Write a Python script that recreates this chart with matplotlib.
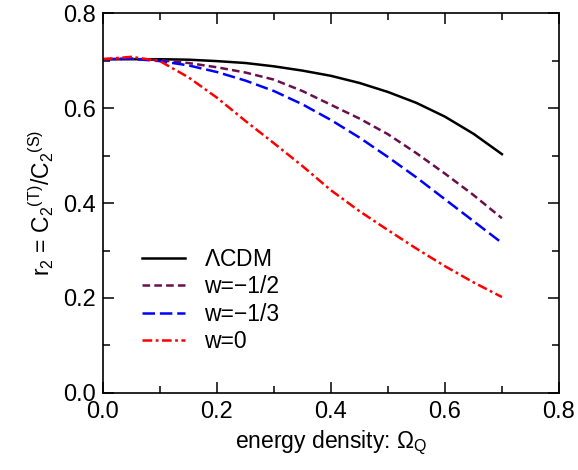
import numpy as np
import matplotlib
matplotlib.use('Agg')
import matplotlib.pyplot as plt
from matplotlib.ticker import MultipleLocator, FormatStrFormatter

plt.rcParams['font.family'] = ['Liberation Sans', 'DejaVu Sans']
plt.rcParams['mathtext.fontset'] = 'custom'
plt.rcParams['mathtext.rm'] = 'Liberation Sans'
plt.rcParams['mathtext.it'] = 'Liberation Sans:italic'
plt.rcParams['lines.scale_dashes'] = False

# energy density values
omega_q = [0.0, 0.05, 0.1, 0.15, 0.2, 0.25, 0.3, 0.35, 0.4, 0.45, 0.5, 0.55, 0.6, 0.65, 0.7]

r2_lcdm = [0.703, 0.703, 0.703, 0.702, 0.699, 0.695, 0.688, 0.679, 0.668, 0.653,
           0.634, 0.611, 0.582, 0.546, 0.503]
r2_w_half = [0.703, 0.704, 0.701, 0.695, 0.686, 0.675, 0.660, 0.636, 0.607, 0.578,
             0.545, 0.505, 0.462, 0.417, 0.368]
r2_w_third = [0.703, 0.704, 0.699, 0.690, 0.676, 0.658, 0.636, 0.608, 0.575, 0.538,
              0.497, 0.454, 0.408, 0.362, 0.316]
r2_w_zero = [0.703, 0.708, 0.699, 0.665, 0.622, 0.573, 0.526, 0.478, 0.427, 0.383,
             0.343, 0.304, 0.267, 0.233, 0.202]

fig = plt.figure(figsize=(5.78, 4.70), dpi=100)
ax = fig.add_axes([0.178, 0.164, 0.789, 0.808])

lw = 1.8
ax.plot(omega_q, r2_lcdm, color='black', lw=lw, label=r'$\Lambda$CDM')
ax.plot(omega_q, r2_w_half, color='#6a0f4e', lw=lw, dashes=(5.5, 3), label='w=\u22121/2')
ax.plot(omega_q, r2_w_third, color='#0000ff', lw=lw, dashes=(9, 3.5), label='w=\u22121/3')
ax.plot(omega_q, r2_w_zero, color='#ff0000', lw=lw, dashes=(7, 2.5, 2, 2.5), label='w=0')

ax.set_xlim(0, 0.8)
ax.set_ylim(0, 0.8)
ax.xaxis.set_major_locator(MultipleLocator(0.2))
ax.xaxis.set_minor_locator(MultipleLocator(0.1))
ax.yaxis.set_major_locator(MultipleLocator(0.2))
ax.yaxis.set_minor_locator(MultipleLocator(0.1))
ax.xaxis.set_major_formatter(FormatStrFormatter('%.1f'))
ax.yaxis.set_major_formatter(FormatStrFormatter('%.1f'))
ax.tick_params(which='both', direction='in', top=True, right=True, labelsize=17, width=1.1)
ax.tick_params(which='major', length=8)
ax.tick_params(which='minor', length=5)
ax.tick_params(axis='x', which='major', pad=6)
ax.tick_params(axis='y', which='major', pad=5)
for s in ax.spines.values():
    s.set_linewidth(1.2)

ax.set_xlabel(r'energy density: $\mathregular{\Omega_Q}$', fontsize=16.5, labelpad=4)
ax.set_ylabel(r'r$_{\mathregular{2}}$ = C$_{\mathregular{2}}$$^{\mathregular{(T)}}$/C$_{\mathregular{2}}$$^{\mathregular{(S)}}$',
              fontsize=16.5, labelpad=5)

ax.legend(loc='lower left', bbox_to_anchor=(0.04, 0.05), frameon=False, fontsize=16.5,
          handlelength=1.9, handletextpad=0.8, labelspacing=0.2)

fig.savefig('out.png', dpi=100)
